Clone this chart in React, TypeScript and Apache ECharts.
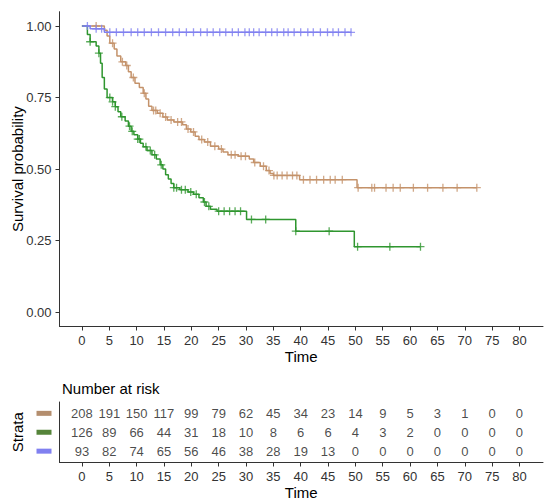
import React, { useEffect, useRef } from "react";
import * as echarts from "echarts";

// ---- data ----
const tickTimes = [0, 5, 10, 15, 20, 25, 30, 35, 40, 45, 50, 55, 60, 65, 70, 75, 80];
const yTicks = [0, 0.25, 0.5, 0.75, 1];

// Kaplan-Meier steps: [time, survival after time]
const brownSteps: [number, number][] = [
  [0, 1.0], [4.1, 0.985], [4.6, 0.965], [5.1, 0.94], [5.9, 0.92], [6.4, 0.895], [7.1, 0.875],
  [8.0, 0.862], [8.5, 0.84], [9.0, 0.82], [9.7, 0.8], [10.5, 0.785], [11.2, 0.765], [11.7, 0.745],
  [12.2, 0.72], [12.8, 0.705], [13.8, 0.695], [14.8, 0.682], [15.6, 0.672], [16.8, 0.665],
  [18.4, 0.655], [19.1, 0.64], [19.9, 0.63], [20.7, 0.615], [21.4, 0.603], [22.4, 0.595],
  [23.5, 0.58], [25.0, 0.57], [25.8, 0.56], [26.7, 0.55], [28.6, 0.545], [30.6, 0.535],
  [31.4, 0.523], [32.6, 0.51], [33.7, 0.495], [34.4, 0.485], [35.0, 0.478], [39.8, 0.463],
  [50.3, 0.435],
];
const brownEnd = 72.2;
const brownCensor = [
  2.6, 5.6, 7.4, 8.2, 9.4, 11.4, 13.1, 13.5, 14.3, 15.3, 16.3, 17.5, 18.2, 19.4, 20.4, 21.9, 23.0,
  24.3, 25.5, 27.3, 28.0, 29.1, 29.9, 31.6, 33.2, 34.2, 35.1, 35.7, 36.6, 37.5, 38.5, 39.3, 40.5,
  41.7, 42.9, 44.2, 45.4, 46.3, 47.6, 50.5, 53.0, 53.5, 55.6, 56.9, 58.2, 60.6, 63.2, 66.0, 68.6,
  72.2,
];

const greenSteps: [number, number][] = [
  [0, 1.0], [1.0, 0.97], [1.5, 0.945], [2.6, 0.93], [3.1, 0.905], [3.4, 0.87], [3.7, 0.82],
  [4.1, 0.78], [4.6, 0.75], [5.6, 0.735], [6.1, 0.718], [6.6, 0.7], [7.1, 0.683], [7.9, 0.668],
  [8.5, 0.65], [9.0, 0.632], [9.5, 0.62], [10.2, 0.605], [10.7, 0.59], [11.2, 0.578], [11.9, 0.565],
  [12.8, 0.55], [13.6, 0.535], [14.3, 0.515], [14.8, 0.5], [15.3, 0.48], [15.8, 0.465], [16.3, 0.45],
  [16.8, 0.435], [17.9, 0.428], [19.4, 0.42], [20.4, 0.412], [21.4, 0.4], [22.2, 0.385],
  [22.7, 0.37], [23.5, 0.36], [24.7, 0.353], [30.1, 0.324], [39.1, 0.283], [49.8, 0.229],
];
const greenEnd = 61.9;
const greenCensor = [
  1.5, 3.1, 5.1, 5.6, 6.1, 7.3, 8.7, 9.2, 10.2, 10.5, 11.7, 12.5, 13.3, 14.5, 16.8, 17.3, 18.2,
  18.9, 19.9, 20.9, 22.4, 23.2, 25.0, 26.0, 27.0, 28.0, 29.0, 31.0, 33.6, 39.1, 45.2, 50.4, 56.3,
  61.9,
];

const blueSteps: [number, number][] = [[0, 1.0], [1.5, 0.99], [4.1, 0.978]];
const blueEnd = 49.3;
const blueCensor = [
  1.0, 2.6, 3.6, 5.1, 6.3, 7.6, 9.0, 10.2, 11.4, 12.7, 14.0, 15.3, 16.6, 17.8, 19.1, 20.4, 21.7,
  22.9, 24.0, 25.2, 26.3, 27.5, 28.6, 29.8, 30.6, 31.4, 32.4, 33.6, 34.7, 35.7, 36.9, 37.7, 38.8,
  40.0, 41.3, 42.3, 43.6, 44.9, 45.9, 46.9, 48.1, 49.2,
];

// Number at risk
const riskBrown = [208, 191, 150, 117, 99, 79, 62, 45, 34, 23, 14, 9, 5, 3, 1, 0, 0];
const riskGreen = [126, 89, 66, 44, 31, 18, 10, 8, 6, 6, 4, 3, 2, 0, 0, 0, 0];
const riskBlue = [93, 82, 74, 65, 56, 46, 38, 28, 19, 13, 0, 0, 0, 0, 0, 0, 0];

const curveColors = ["#C4926A", "#2F962F", "#8080F0"];
const swatchColors = ["#B48E6E", "#55843A", "#8080F0"];

function stepAt(steps: [number, number][], t: number): number {
  let v = steps[0][1];
  for (const [st, sv] of steps) if (st <= t) v = sv;
  return v;
}

function lineData(steps: [number, number][], end: number) {
  const d = steps.map((s) => [s[0], s[1]]);
  d.push([end, steps[steps.length - 1][1]]);
  return d;
}

const PLUS = "path://M5,0L5,10M0,5L10,5";
const FONT = "Liberation Sans, Arial, sans-serif";

export default function App() {
  const ref = useRef<HTMLDivElement>(null);
  useEffect(() => {
    document.body.style.margin = "0";
    const chart = echarts.init(ref.current!, null, { renderer: "svg" });
    const groups = [
      { steps: brownSteps, end: brownEnd, cens: brownCensor },
      { steps: greenSteps, end: greenEnd, cens: greenCensor },
      { steps: blueSteps, end: blueEnd, cens: blueCensor },
    ];
    const series: any[] = [];
    groups.forEach((g, i) => {
      series.push({
        type: "line",
        xAxisIndex: 0,
        yAxisIndex: 0,
        step: "end",
        showSymbol: false,
        data: lineData(g.steps, g.end),
        lineStyle: { color: curveColors[i], width: 1.5 },
        z: 2 + i,
      });
      series.push({
        type: "scatter",
        xAxisIndex: 0,
        yAxisIndex: 0,
        symbol: PLUS,
        symbolSize: 8,
        data: g.cens.map((t) => [t, stepAt(g.steps, t)]),
        itemStyle: { color: "transparent", borderColor: curveColors[i], borderWidth: 1.3 },
        z: 2 + i,
      });
    });
    const risks = [riskBrown, riskGreen, riskBlue];
    const tableData: any[] = [];
    risks.forEach((arr, i) => {
      arr.forEach((n, j) => tableData.push([tickTimes[j], i, n]));
    });
    series.push({
      type: "scatter",
      xAxisIndex: 1,
      yAxisIndex: 1,
      symbolSize: 1,
      itemStyle: { color: "transparent" },
      data: tableData,
      label: {
        show: true,
        position: "inside",
        formatter: (p: any) => String(p.value[2]),
        color: "#1a1a1a",
        fontSize: 13,
        fontFamily: FONT,
      },
    });

    const axisLine = { show: true, onZero: false, lineStyle: { color: "#333", width: 1 } };
    const axisTick = (vals: number[]) => ({
      show: true,
      length: 4,
      lineStyle: { color: "#333" },
      customValues: vals,
    });
    const xAxisFor = (gridIndex: number) => ({
      type: "value",
      gridIndex,
      min: -4.1,
      max: 84.3,
      axisLine,
      axisTick: axisTick(tickTimes),
      axisLabel: {
        customValues: tickTimes,
        color: "#333",
        fontSize: 13,
        margin: 7,
        fontFamily: FONT,
      },
      splitLine: { show: false },
      name: "Time",
      nameLocation: "middle",
      nameGap: 22,
      nameMoveOverlap: false,
      nameTextStyle: { fontSize: 15, color: "#000", fontFamily: FONT },
    });

    chart.setOption({
      animation: false,
      textStyle: { fontFamily: FONT },
      title: {
        text: "Number at risk",
        left: 57,
        top: 376,
        textStyle: { fontSize: 15, fontWeight: "normal", color: "#000", fontFamily: FONT },
      },
      grid: [
        { left: 59.5, right: 7, top: 11.7, bottom: 504 - 326.5, outerBoundsMode: "none", containLabel: false },
        { left: 59.5, right: 7, top: 402, bottom: 504 - 462.5, outerBoundsMode: "none", containLabel: false },
      ],
      xAxis: [xAxisFor(0), xAxisFor(1)],
      yAxis: [
        {
          type: "value",
          gridIndex: 0,
          min: -0.05,
          max: 1.05,
          axisLine,
          axisTick: axisTick(yTicks),
          axisLabel: {
            customValues: yTicks,
            formatter: (v: number) => v.toFixed(2),
            color: "#333",
            fontSize: 13,
            margin: 8,
            fontFamily: FONT,
          },
          splitLine: { show: false },
          name: "Survival probability",
          nameLocation: "middle",
          nameGap: 35,
          nameMoveOverlap: false,
          nameTextStyle: { fontSize: 15, color: "#000", fontFamily: FONT },
        },
        {
          type: "value",
          gridIndex: 1,
          min: -0.6,
          max: 2.6,
          inverse: true,
          axisLine,
          axisTick: { show: false },
          axisLabel: {
            customValues: [0, 1, 2],
            formatter: (v: number) => `{s${v}|}`,
            margin: 8,
            rich: {
              s0: { width: 15, height: 5, backgroundColor: swatchColors[0] },
              s1: { width: 15, height: 5, backgroundColor: swatchColors[1] },
              s2: { width: 15, height: 5, backgroundColor: swatchColors[2] },
            },
          },
          splitLine: { show: false },
          name: "Strata",
          nameLocation: "middle",
          nameGap: 35,
          nameMoveOverlap: false,
          nameTextStyle: { fontSize: 15, color: "#000", fontFamily: FONT },
        },
      ],
      series,
    });
    return () => chart.dispose();
  }, []);
  return <div ref={ref} style={{ width: 550, height: 504 }} />;
}
